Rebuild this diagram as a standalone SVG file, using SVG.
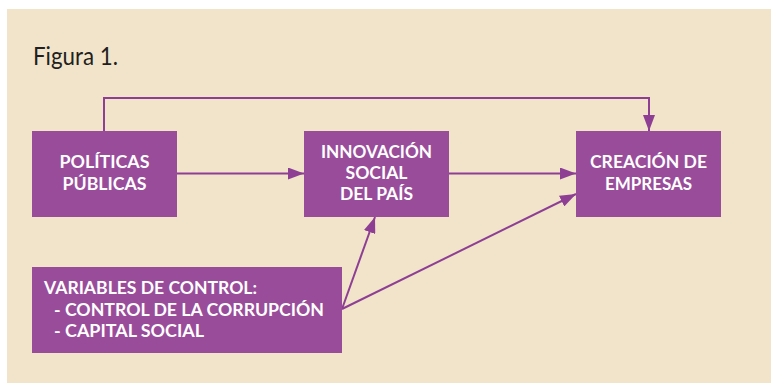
<svg xmlns="http://www.w3.org/2000/svg" width="771" height="383" viewBox="0 0 771 383">
<defs>
<style>
.bg{fill:#ffffff}
.panel{fill:#f1e4cb}
.box{fill:#994c9a}
.lbl{font-family:"Lato","Open Sans","Liberation Sans",sans-serif;font-weight:bold;font-size:16.5px;fill:#ffffff;text-anchor:middle}
.lbl2{font-family:"Lato","Open Sans","Liberation Sans",sans-serif;font-weight:bold;font-size:16.5px;fill:#ffffff}
.title{font-family:"Lato","Liberation Sans",sans-serif;font-size:25px;fill:#231f20}
.con{fill:none;stroke:#8e3f93;stroke-width:2}
</style>
<marker id="arr" viewBox="0 0 16 12" refX="16" refY="6" markerWidth="16" markerHeight="12" markerUnits="userSpaceOnUse" orient="auto">
<path d="M0,0 L16,6 L0,12 Z" fill="#8e3f93"/>
</marker>
</defs>
<rect class="bg" x="0" y="0" width="771" height="383"/>
<rect class="panel" x="7" y="9" width="764" height="374"/>
<text class="title" x="33" y="65" textLength="85" lengthAdjust="spacingAndGlyphs">Figura 1.</text>
<g id="connectors">
<path class="con" d="M104,131 V98 H649 V131" marker-end="url(#arr)"/>
<path class="con" d="M177,173.5 H304" marker-end="url(#arr)"/>
<path class="con" d="M449,173.5 H576" marker-end="url(#arr)"/>
<path class="con" d="M342,309 L375,217" marker-end="url(#arr)"/>
<path class="con" d="M342,309 L576,194" marker-end="url(#arr)"/>
</g>
<g id="politicas">
<rect class="box" x="32" y="131" width="145" height="86"/>
<text class="lbl" x="104.5" y="168" textLength="90" lengthAdjust="spacingAndGlyphs">POLÍTICAS</text>
<text class="lbl" x="104.5" y="190" textLength="84" lengthAdjust="spacingAndGlyphs">PÚBLICAS</text>
</g>
<g id="innovacion">
<rect class="box" x="304" y="131" width="145" height="86"/>
<text class="lbl" x="376.5" y="158" textLength="111" lengthAdjust="spacingAndGlyphs">INNOVACIÓN</text>
<text class="lbl" x="376.5" y="179" textLength="62" lengthAdjust="spacingAndGlyphs">SOCIAL</text>
<text class="lbl" x="376.5" y="200" textLength="73" lengthAdjust="spacingAndGlyphs">DEL PAÍS</text>
</g>
<g id="creacion">
<rect class="box" x="576" y="131" width="145" height="86"/>
<text class="lbl" x="648.5" y="168" textLength="117" lengthAdjust="spacingAndGlyphs">CREACIÓN DE</text>
<text class="lbl" x="648.5" y="190" textLength="87" lengthAdjust="spacingAndGlyphs">EMPRESAS</text>
</g>
<g id="variables">
<rect class="box" x="32" y="267" width="310" height="86"/>
<text class="lbl2" x="44" y="294" textLength="213" lengthAdjust="spacingAndGlyphs">VARIABLES DE CONTROL:</text>
<text class="lbl2" x="54" y="316" textLength="270" lengthAdjust="spacingAndGlyphs">- CONTROL DE LA CORRUPCIÓN</text>
<text class="lbl2" x="54" y="337" textLength="150" lengthAdjust="spacingAndGlyphs">- CAPITAL SOCIAL</text>
</g>
</svg>
